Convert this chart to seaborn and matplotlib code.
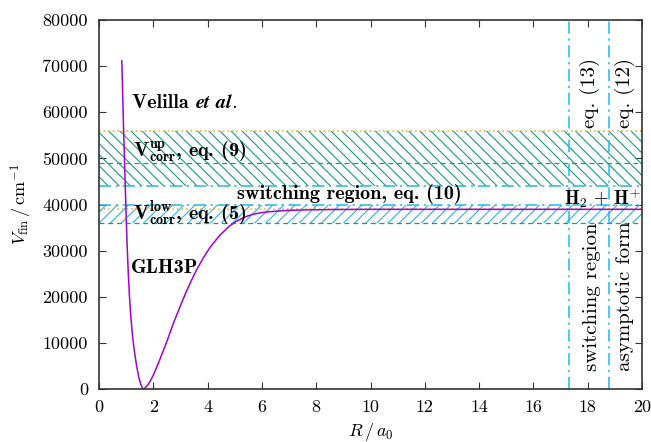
import numpy as np
import pandas as pd
import matplotlib
matplotlib.use("Agg")
import matplotlib.pyplot as plt
import seaborn as sns

# ---- data ----
R_vals = [0.84, 0.88, 0.92, 0.96, 1.00, 1.04, 1.08, 1.12, 1.17, 1.23, 1.30, 1.38,
          1.46, 1.54, 1.60, 1.63, 1.70, 1.80, 1.90, 2.00, 2.10, 2.20, 2.30, 2.40,
          2.50, 2.62, 2.75, 2.90, 3.05, 3.23, 3.40, 3.60, 3.84, 4.10, 4.46, 4.80,
          5.07, 5.40, 5.68, 6.00, 6.30, 6.90, 7.50, 8.50, 10.0, 20.0]
V_vals = [71200, 62000, 53500, 45500, 37500, 30500, 25000, 20300, 15800, 11800, 8300, 5200,
          2700, 1000, 200, 0, 250, 900, 1850, 3000, 4400, 5800, 7300, 8800,
          10300, 12300, 14400, 16600, 18800, 21300, 23500, 25900, 28400, 30800, 33400, 35300,
          36400, 37350, 37900, 38250, 38450, 38700, 38820, 38900, 38950, 38950]

upper_band = [44000, 56000]
upper_mid = 49000
lower_band = [36000, 40000]
lower_mid = 39000
switch_R = [17.3, 18.8]

x_ticks = [0, 2, 4, 6, 8, 10, 12, 14, 16, 18, 20]
y_ticks = [0, 10000, 20000, 30000, 40000, 50000, 60000, 70000, 80000]

purple = "#a400d8"
green = "#1a9e77"
cyan = "#29b5e8"
orange = "#f0a830"
frame = "#333333"

sns.set_theme(style="ticks")
plt.rcParams.update({
    "font.family": ["cmr10", "DejaVu Serif"],
    "mathtext.fontset": "cm",
    "axes.formatter.use_mathtext": True,
    "hatch.linewidth": 0.8,
    "axes.unicode_minus": False,
    "text.color": "black",
    "axes.labelcolor": "black",
})

fig = plt.figure(figsize=(6.51, 4.42), dpi=100)
ax = fig.add_axes([99 / 651, (442 - 389) / 442, (642 - 99) / 651, (389 - 20) / 442])

# hatched bands
ax.fill_between([0, 20], upper_band[0], upper_band[1], facecolor="none",
                edgecolor=green, hatch="\\\\\\", linewidth=0)
ax.fill_between([0, 20], lower_band[0], lower_band[1], facecolor="none",
                edgecolor=cyan, hatch="///", linewidth=0)

dashdot = (0, (8, 3, 1.5, 3))
ax.axhline(upper_band[1], color=orange, ls=(0, (1, 2)), lw=1.1)
ax.axhline(upper_mid, color=green, ls=(0, (4, 3)), lw=0.9)
ax.axhline(upper_band[0], color=cyan, ls=dashdot, lw=1.1)
ax.axhline(lower_band[1], color=cyan, ls=dashdot, lw=1.1)
ax.axhline(lower_mid, color=orange, ls=(0, (1, 2)), lw=1.1)
ax.axhline(lower_band[0], color=green, ls=(0, (4, 3)), lw=0.9)
for r in switch_R:
    ax.axvline(r, color=cyan, ls=dashdot, lw=1.1)

df = pd.DataFrame({"R": R_vals, "V": V_vals})
sns.lineplot(data=df, x="R", y="V", ax=ax, color=purple, lw=1.1, sort=False)

fs = 13
fsb = 14.5
bold = dict(fontfamily="cmb10", fontsize=fsb, color="black")
t1 = ax.text(1.22, 62000, "Velilla ", va="center", ha="left", **bold)
t2 = ax.annotate(r"$\boldsymbol{et\ al.}$", xy=(1, 0), xycoords=t1, va="bottom", ha="left",
                 fontsize=fsb, color="black")
try:
    fig.canvas.draw()
except Exception:
    t2.set_text("et al.")
    t2.set_fontfamily("DejaVu Serif")
    t2.set_style("italic")
    t2.set_weight("bold")
    t2.set_fontsize(13)
ax.text(1.25, 51400, r"$\mathbf{V}^{\mathbf{up}}_{\mathbf{corr}}$, eq. (9)", va="center", ha="left", **bold)
ax.text(5.08, 42300, "switching region, eq. (10)", va="center", ha="left", **bold)
ax.text(17.12, 41400, r"$\mathbf{H}_2\,+\,\mathbf{H}^{+}$", va="center", ha="left",
        fontsize=13.5, zorder=10, clip_on=False, color="black")
ax.text(1.25, 37900, r"$\mathbf{V}^{\mathbf{low}}_{\mathbf{corr}}$, eq. (5)", va="center", ha="left", **bold)
ax.text(1.18, 26200, "GLH3P", va="center", ha="left", **bold)

rot = dict(fontsize=15, rotation=90, ha="center", va="bottom", color="black")
ax.text(18.08, 56600, "eq. (13)", **rot)
ax.text(19.37, 56600, "eq. (12)", **rot)
ax.text(18.15, 4000, "switching region", **rot)
ax.text(19.37, 4000, "asymptotic form", **rot)

ax.set_xlim(0, 20)
ax.set_ylim(0, 80000)
ax.set_xticks(x_ticks)
ax.set_yticks(y_ticks)
ax.set_xticklabels([str(t) for t in x_ticks])
ax.set_yticklabels([str(t) for t in y_ticks])
ax.tick_params(direction="in", length=5, width=0.8, top=True, right=True,
               labelsize=fs, pad=8, color=frame, labelcolor="black")
for s in ax.spines.values():
    s.set_color(frame)
    s.set_linewidth(1.2)

ax.set_xlabel(r"$R\,/\,a_0$", fontsize=fs, labelpad=4)
ax.set_ylabel(r"$V_{\rm fin}\,/\,{\rm cm}^{-1}$", fontsize=fs, labelpad=6)

fig.savefig("out.png", dpi=100)
